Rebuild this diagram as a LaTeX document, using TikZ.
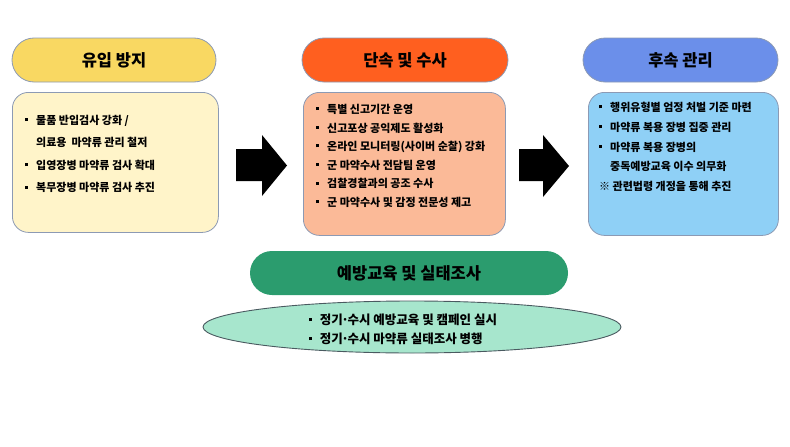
\documentclass[tikz,border=0pt]{standalone}
\usepackage{fontspec}
\setmainfont{Noto Sans CJK KR}
\usepackage{tikz}
\usetikzlibrary{positioning}

\definecolor{yellowpill}{HTML}{F9D862}
\definecolor{yellowbox}{HTML}{FFF4C9}
\definecolor{orangepill}{HTML}{FF5F1F}
\definecolor{orangebox}{HTML}{FBBA98}
\definecolor{bluepill}{HTML}{6B8FEA}
\definecolor{bluebox}{HTML}{8FD0F6}
\definecolor{greenpill}{HTML}{2B9C6E}
\definecolor{greenbox}{HTML}{A7E6CD}
\definecolor{edgegray}{HTML}{8C9AB4}
\definecolor{edgedark}{HTML}{4A5A60}

\newcommand{\bul}{\rule[0.3em]{3pt}{3pt}\hspace{8pt}}
\newcommand{\nobul}{\hphantom{\bul}}
\newcommand{\mdot}{\kern-0.12em·\kern-0.12em}

\tikzset{
  pill/.style={draw=edgegray, line width=0.8pt, rectangle, rounded corners=22pt,
    minimum height=44pt, font=\fontsize{16.5}{18}\selectfont\bfseries},
  listbox/.style={draw=edgegray, line width=0.8pt, rectangle, rounded corners=16pt,
    anchor=north west},
  listtext/.style={anchor=north west, align=left, inner sep=0pt},
  blockarrow/.style={fill=black}
}

\begin{document}
\begin{tikzpicture}[x=1pt,y=-1pt]\tikzstyle{every node}+=[inner sep=0pt]
  \useasboundingbox (0,0) rectangle (790,447);
  % titles
  \node [pill, fill=yellowpill, minimum width=204pt] (inflowT) at (114,60) {유입 방지};
  \node [pill, fill=orangepill, minimum width=206pt] (crackT) at (405,60) {단속 및 수사};
  \node [pill, fill=bluepill, minimum width=195pt] (followT) at (680.5,60) {후속 관리};
  % boxes
  \node [listbox, fill=yellowbox, minimum width=206pt, minimum height=140pt] (inflowB) at (12,92) {};
  \node [listbox, fill=orangebox, minimum width=202pt, minimum height=143pt] (crackB) at (303,92) {};
  \node [listbox, fill=bluebox, minimum width=190pt, minimum height=143pt] (followB) at (588,92) {};
  \node [listtext, font=\fontsize{11}{22.5}\selectfont\bfseries] (inflowL) at ([xshift=13pt,yshift=-23pt]inflowB.north west)
    {\bul 물품 반입검사 강화 /\\ \nobul 의료용\ \ 마약류 관리 철저\\ \bul 입영장병 마약류 검사 확대\\ \bul 복무장병 마약류 검사 추진};
  \node [listtext, font=\fontsize{11}{18.6}\selectfont\bfseries] (crackL) at ([xshift=13pt,yshift=-12pt]crackB.north west)
    {\bul 특별 신고기간 운영\\ \bul 신고포상 공익제도 활성화\\ \bul 온라인 모니터링(사이버 순찰) 강화\\ \bul 군 마약수사 전담팀 운영\\ \bul 검찰경찰과의 공조 수사\\ \bul 군 마약수사 및 감정 전문성 제고};
  \node [listtext, font=\fontsize{11}{19.8}\selectfont\bfseries] (followL) at ([xshift=11pt,yshift=-10pt]followB.north west)
    {\bul 행위유형별 엄정 처벌 기준 마련\\ \bul 마약류 복용 장병 집중 관리\\ \bul 마약류 복용 장병의\\ \nobul 중독예방교육 이수 의무화\\ ※ 관련법령 개정을 통해 추진};
  % arrows
  \fill [blockarrow] (236,149) -- (262,149) -- (262,135) -- (287,165.5) -- (262,196) -- (262,181) -- (236,181) -- cycle;
  \fill [blockarrow] (519,149) -- (543,149) -- (543,135) -- (569,166) -- (543,197) -- (543,181) -- (519,181) -- cycle;
  % prevention
  \node [pill, draw=none, fill=greenpill, minimum width=318pt, font=\fontsize{16.5}{18}\selectfont\bfseries] (preventT) at (409,273) {예방교육 및 실태조사};
  \draw [draw=edgedark, line width=0.9pt, fill=greenbox] (412,327) ellipse (209pt and 26pt);
  \node [listtext, anchor=north, font=\fontsize{12.5}{19}\selectfont\bfseries] (preventL) at (403,314)
    {\bul 정기\mdot 수시 예방교육 및 캠페인 실시\\ \bul 정기\mdot 수시 마약류 실태조사 병행};
\end{tikzpicture}
\end{document}
